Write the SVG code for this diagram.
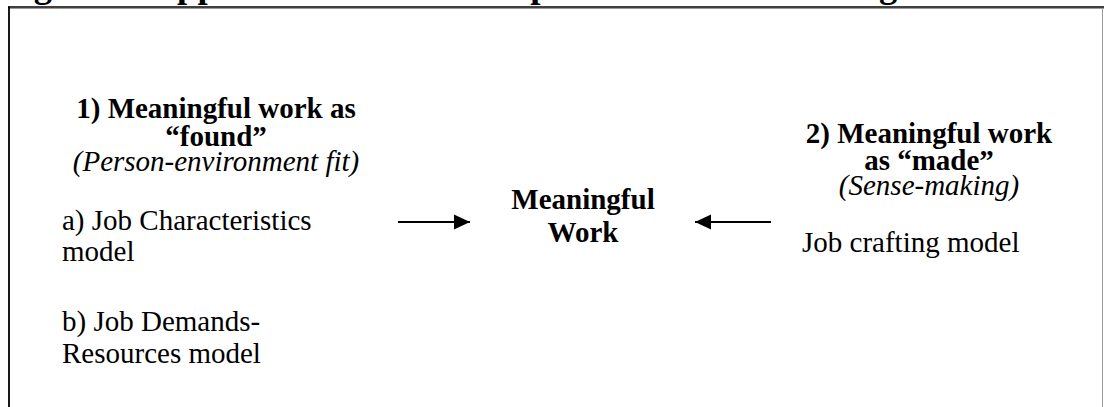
<svg xmlns="http://www.w3.org/2000/svg" width="1104" height="407" viewBox="0 0 1104 407">
  <style>
    .t { font-family: "Liberation Serif", "Times New Roman", serif; font-size: 29px; fill: #000; }
    .b { font-weight: bold; }
    .i { font-style: italic; }
    .mid { text-anchor: middle; }
    .title { font-family: "Liberation Serif", "Times New Roman", serif; font-size: 36.5px; font-weight: bold; fill: #000; }
    .edge { stroke: #000; stroke-width: 2; fill: none; }
  </style>
  <defs>
    <marker id="arrowhead" viewBox="0 0 16 16" refX="16" refY="8" markerWidth="16" markerHeight="16" markerUnits="userSpaceOnUse" orient="auto">
      <path d="M0,0.5 L16,8 L0,15.5 Z" fill="#000"/>
    </marker>
  </defs>

  <rect width="1104" height="407" fill="#fff"/>

  <!-- caption line, clipped by the top edge of the page -->
  <text class="title" x="1.4" y="-3.5">Figure 1: Approaches to the conceptualisation of meaningful work</text>

  <!-- frame -->
  <g id="frame">
    <line x1="8" y1="7" x2="1104" y2="7" stroke="#000" stroke-width="1.6"/>
    <line x1="9" y1="8.5" x2="1104" y2="8.5" stroke="#999" stroke-width="1"/>
    <line x1="9" y1="6.5" x2="9" y2="407" stroke="#000" stroke-width="1.8"/>
    <line x1="1102.5" y1="8" x2="1102.5" y2="407" stroke="#999" stroke-width="1"/>
  </g>

  <g id="found">
    <text class="t b mid" x="216" y="118">1) Meaningful work as</text>
    <text class="t b mid" x="216" y="146">“found”</text>
    <text class="t i mid" x="216" y="171">(Person-environment fit)</text>
    <text class="t" x="62" y="230">a) Job Characteristics</text>
    <text class="t" x="62" y="261">model</text>
    <text class="t" x="62" y="331">b) Job Demands-</text>
    <text class="t" x="62" y="363">Resources model</text>
  </g>

  <g id="meaningful-work">
    <text class="t b mid" x="583" y="209">Meaningful</text>
    <text class="t b mid" x="583" y="242">Work</text>
  </g>

  <g id="made">
    <text class="t b mid" x="929" y="143">2) Meaningful work</text>
    <text class="t b mid" x="929" y="170">as “made”</text>
    <text class="t i mid" x="929" y="195">(Sense-making)</text>
    <text class="t" x="802" y="252">Job crafting model</text>
  </g>

  <g id="connectors">
    <line class="edge" x1="398" y1="222" x2="470" y2="222" marker-end="url(#arrowhead)"/>
    <line class="edge" x1="771" y1="222" x2="695" y2="222" marker-end="url(#arrowhead)"/>
  </g>
</svg>
